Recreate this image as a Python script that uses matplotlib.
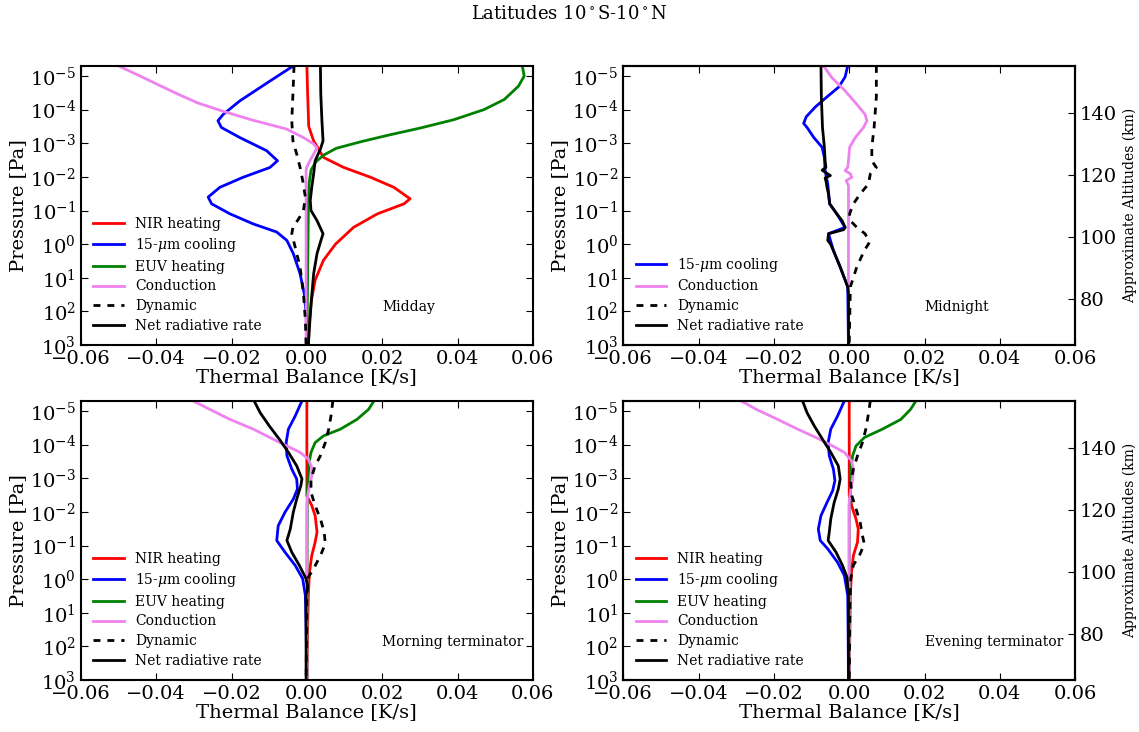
import numpy as np
import matplotlib
matplotlib.use('Agg')
import matplotlib.pyplot as plt
from matplotlib.ticker import NullLocator

# values: (log10 pressure [Pa], rate [K/s]), top to bottom
md_nir = [(-5.3,0.0),(-4.5,0.0002),(-3.5,0.0005),(-3.07,0.0018),(-2.83,0.0031),(-2.58,0.0044),(-2.28,0.0098),
          (-1.99,0.0169),(-1.69,0.0231),(-1.35,0.0274),(-1.2,0.0258),(-0.9,0.0187),(-0.5,0.0124),(0.0,0.0076),
          (0.48,0.0044),(1.07,0.0022),(1.67,0.0012),(2.36,0.0006),(3.0,0.0004)]
md_co2 = [(-5.3,-0.0036),(-4.85,-0.0098),(-4.26,-0.0178),(-3.86,-0.0222),(-3.67,-0.0236),(-3.47,-0.0227),
          (-3.17,-0.0178),(-2.78,-0.0107),(-2.48,-0.0078),(-2.28,-0.0098),(-1.99,-0.0169),(-1.69,-0.0231),
          (-1.4,-0.0262),(-1.2,-0.0253),(-0.9,-0.0204),(-0.6,-0.0142),(-0.36,-0.008),(-0.11,-0.0053),
          (0.28,-0.0036),(0.88,-0.0018),(1.47,-0.0007),(2.06,-0.0002),(3.0,0.0)]
md_euv = [(-5.3,0.0572),(-5.0,0.0577),(-4.7,0.0562),(-4.3,0.0524),(-4.0,0.047),(-3.7,0.039),(-3.45,0.030),
          (-3.25,0.022),(-3.05,0.0145),(-2.85,0.0078),(-2.65,0.0045),(-2.45,0.0024),(-2.2,0.0011),(-1.8,0.0006),
          (-1.2,0.0004),(0.0,0.0003),(1.0,0.0002),(2.0,0.0001),(3.0,0.0)]
md_cond = [(-5.3,-0.050),(-5.0,-0.0443),(-4.5,-0.035),(-4.2,-0.029),(-3.96,-0.0225),(-3.7,-0.0148),(-3.42,-0.0053),
           (-3.17,-0.0009),(-2.98,0.0018),(-2.86,0.0027),(-2.58,0.0013),(-2.3,0.0),(-2.2,-0.0002),(3.0,-0.0002)]
md_dyn = [(-5.3,-0.0034),(-4.46,-0.0037),(-3.67,-0.004),(-3.07,-0.0037),(-2.68,-0.0027),(-2.28,-0.0018),
          (-1.89,-0.0011),(-1.4,-0.0004),(-1.0,-0.0009),(-0.75,-0.0022),(-0.5,-0.0037),(-0.31,-0.004),
          (0.09,-0.0031),(0.68,-0.0018),(1.47,-0.0009),(2.26,-0.0004),(3.0,-0.0002)]
md_net = [(-5.3,0.0036),(-4.46,0.0037),(-3.67,0.004),(-3.07,0.0043),(-2.83,0.0036),(-2.48,0.0022),(-2.09,0.0018),
          (-1.69,0.0013),(-1.3,0.0009),(-1.0,0.0011),(-0.7,0.0027),(-0.31,0.0043),(-0.06,0.0036),(0.28,0.0027),
          (0.88,0.0018),(1.67,0.0012),(2.46,0.0007),(3.0,0.0004)]

mn_co2 = [(-5.3,-0.0004),(-4.97,-0.0011),(-4.67,-0.0028),(-4.38,-0.0059),(-4.08,-0.009),(-3.79,-0.0114),
          (-3.59,-0.0121),(-3.47,-0.0112),(-3.17,-0.0094),(-2.88,-0.0072),(-2.58,-0.0066),(-2.19,-0.0064),
          (-1.79,-0.0057),(-1.2,-0.0052),(-0.9,-0.0033),(-0.5,-0.0011),(-0.31,-0.0055),(0.19,-0.0042),
          (0.68,-0.0024),(1.27,-0.0004),(3.0,-0.0002)]
mn_cond = [(-5.3,-0.0068),(-4.95,-0.0046),(-4.56,-0.0011),(-4.16,0.002),(-3.86,0.0042),(-3.67,0.0047),
           (-3.47,0.0038),(-3.17,0.0016),(-2.88,0.0001),(-2.48,-0.0002),(-2.28,-0.0004),(-2.19,-0.0011),
           (-2.09,0.0003),(-1.99,0.0007),(-1.89,-0.0008),(-1.74,-0.0002),(3.0,-0.0002)]
mn_dyn = [(-5.3,0.0072),(-4.38,0.0072),(-3.47,0.0066),(-2.88,0.006),(-2.48,0.006),(-2.28,0.0072),(-2.09,0.0056),
          (-1.79,0.0051),(-1.49,0.0029),(-1.2,0.0011),(-0.9,0.0001),(-0.7,0.0003),(-0.5,0.002),(-0.31,0.0042),
          (-0.06,0.0054),(0.19,0.004),(0.68,0.002),(1.27,0.0003),(3.0,0.0)]
mn_net = [(-5.3,-0.0075),(-4.38,-0.0074),(-3.47,-0.0071),(-2.88,-0.0066),(-2.48,-0.0064),(-2.28,-0.0062),
          (-2.2,-0.0072),(-2.14,-0.0064),(-2.04,-0.005),(-1.97,-0.0064),(-1.84,-0.0061),(-1.69,-0.0059),
          (-1.49,-0.0055),(-1.2,-0.0052),(-0.9,-0.0033),(-0.7,-0.0019),(-0.5,-0.0011),(-0.43,-0.0015),
          (-0.31,-0.0055),(-0.11,-0.0057),(-0.01,-0.005),(0.19,-0.0042),(0.68,-0.0024),(1.27,-0.0004),
          (1.47,-0.0002),(3.0,-0.0002)]

mt_nir = [(-5.3,0.0),(-2.48,0.0),(-2.19,0.0013),(-1.89,0.0022),(-1.4,0.0027),(-1.1,0.0022),(-0.7,0.0013),
          (-0.21,0.0007),(0.48,0.0004),(1.47,0.0002),(3.0,0.0)]
mt_co2 = [(-5.3,-0.0013),(-4.85,-0.0031),(-4.46,-0.0049),(-4.06,-0.0055),(-3.67,-0.0053),(-3.27,-0.004),
          (-2.98,-0.0027),(-2.68,-0.0025),(-2.38,-0.0036),(-1.99,-0.0058),(-1.59,-0.0076),(-1.15,-0.008),
          (-0.8,-0.0058),(-0.41,-0.0031),(-0.01,-0.0011),(0.48,-0.0004),(1.47,-0.0002),(3.0,0.0)]
mt_euv = [(-5.3,0.0178),(-5.05,0.0164),(-4.75,0.0133),(-4.46,0.0089),(-4.26,0.0044),(-4.06,0.0022),
          (-3.77,0.0011),(-3.47,0.0006),(-2.98,0.0003),(-2.48,0.0001),(3.0,0.0)]
mt_cond = [(-5.3,-0.0302),(-5.05,-0.0258),(-4.75,-0.0204),(-4.46,-0.0142),(-4.21,-0.0098),(-3.96,-0.0053),
           (-3.77,-0.0018),(-3.57,0.0004),(-3.32,0.0013),(-3.07,0.0013),(-2.78,0.0007),(-2.48,0.0002),
           (-2.2,0.0),(3.0,0.0)]
mt_dyn = [(-5.3,0.0069),(-4.85,0.0064),(-4.46,0.0058),(-4.06,0.0049),(-3.67,0.0036),(-3.37,0.0022),
          (-2.98,0.0011),(-2.58,0.0011),(-2.19,0.0022),(-1.79,0.0036),(-1.4,0.0046),(-1.05,0.0049),
          (-0.7,0.0036),(-0.31,0.0018),(-0.06,0.0004),(0.48,0.0),(3.0,-0.0002)]
mt_net = [(-5.3,-0.014),(-4.95,-0.0124),(-4.56,-0.01),(-4.16,-0.0073),(-3.77,-0.0049),(-3.37,-0.0027),
          (-2.98,-0.0013),(-2.78,-0.0016),(-2.38,-0.0027),(-1.99,-0.0036),(-1.49,-0.0044),(-1.15,-0.0053),
          (-0.8,-0.004),(-0.41,-0.002),(-0.01,-0.0002),(0.19,0.0002),(0.48,-0.0002),(3.0,-0.0002)]

et_nir = [(-5.3,0.0),(-2.48,0.0),(-2.09,0.0009),(-1.79,0.0018),(-1.49,0.0024),(-1.1,0.0022),(-0.7,0.0011),
          (-0.21,0.0006),(0.48,0.0003),(3.0,0.0)]
et_co2 = [(-5.3,-0.0013),(-4.85,-0.0031),(-4.46,-0.0049),(-4.06,-0.0056),(-3.67,-0.0053),(-3.27,-0.0042),
          (-2.93,-0.0038),(-2.63,-0.0044),(-2.28,-0.0059),(-1.89,-0.0075),(-1.49,-0.0082),(-1.15,-0.0077),
          (-0.9,-0.0057),(-0.5,-0.0031),(-0.11,-0.0013),(0.48,-0.0004),(1.47,-0.0003),(3.0,-0.0002)]
et_euv = [(-5.3,0.0177),(-5.05,0.0163),(-4.75,0.0137),(-4.46,0.0088),(-4.21,0.004),(-3.96,0.0018),
          (-3.67,0.0009),(-3.27,0.0004),(-2.48,0.0003),(-2.19,0.0),(3.0,0.0)]
et_cond = [(-5.3,-0.0287),(-5.05,-0.0247),(-4.75,-0.019),(-4.46,-0.0137),(-4.21,-0.0088),(-3.96,-0.0044),
           (-3.77,-0.0013),(-3.52,0.0006),(-3.27,0.0011),(-2.98,0.0009),(-2.58,0.0003),(-2.3,0.0),(3.0,0.0)]
et_dyn = [(-5.3,0.0056),(-4.85,0.005),(-4.46,0.0044),(-4.06,0.0035),(-3.67,0.0022),(-3.27,0.0011),
          (-2.88,0.0004),(-2.48,0.0007),(-2.09,0.0018),(-1.69,0.0029),(-1.3,0.0035),(-1.05,0.004),
          (-0.75,0.0029),(-0.41,0.0011),(-0.01,0.0004),(0.68,0.0002),(3.0,0.0)]
et_net = [(-5.3,-0.0124),(-4.95,-0.0112),(-4.56,-0.0093),(-4.16,-0.0071),(-3.77,-0.0049),(-3.37,-0.0029),
          (-2.98,-0.0024),(-2.68,-0.0029),(-2.28,-0.004),(-1.79,-0.0049),(-1.4,-0.0053),(-1.15,-0.0056),
          (-0.8,-0.0035),(-0.41,-0.0018),(-0.06,-0.0006),(0.48,-0.0002),(3.0,-0.0002)]

panels = [('Midday', [md_nir, md_co2, md_euv, md_cond, md_dyn, md_net]),
          ('Midnight', [None, mn_co2, None, mn_cond, mn_dyn, mn_net]),
          ('Morning terminator', [mt_nir, mt_co2, mt_euv, mt_cond, mt_dyn, mt_net]),
          ('Evening terminator', [et_nir, et_co2, et_euv, et_cond, et_dyn, et_net])]
labels = ['NIR heating', r'15-$\mu$m cooling', 'EUV heating', 'Conduction', 'Dynamic', 'Net radiative rate']
colors = ['r', 'b', 'g', 'violet', 'k', 'k']
alt_ticks = [80, 100, 120, 140]

plt.rcParams['font.family'] = 'serif'
plt.rcParams['font.serif'] = ['DejaVu Serif']
plt.rcParams['mathtext.fontset'] = 'dejavuserif'
plt.rcParams['xtick.direction'] = 'in'
plt.rcParams['ytick.direction'] = 'in'
plt.rcParams['xtick.top'] = True
plt.rcParams['ytick.right'] = True
plt.rcParams['xtick.major.size'] = 5
plt.rcParams['ytick.major.size'] = 5
plt.rcParams['axes.linewidth'] = 1.5

fig, axs = plt.subplots(2, 2, figsize=(11.39, 7.32), dpi=100)
fig.subplots_adjust(left=0.071, right=0.944, bottom=0.071, top=0.91, wspace=0.2, hspace=0.2)
fig.suptitle(r'Latitudes 10$^\circ$S-10$^\circ$N', fontsize=13, y=0.993)

for i, (name, series) in enumerate(panels):
    ax = axs.flat[i]
    for s, lab, c in zip(series, labels, colors):
        if s is None:
            continue
        d = np.array(s)
        if lab == 'Dynamic':
            ax.plot(d[:, 1], 10**d[:, 0], color=c, lw=2, ls='--', dashes=(2.5, 2.5), label=lab)
        else:
            ax.plot(d[:, 1], 10**d[:, 0], color=c, lw=2, label=lab)
    ax.set_yscale('log')
    ax.set_ylim(1e3, 5e-6)
    ax.set_xlim(-0.06, 0.06)
    ax.set_yticks([1e-5, 1e-4, 1e-3, 1e-2, 1e-1, 1e0, 1e1, 1e2, 1e3])
    ax.yaxis.set_minor_locator(NullLocator())
    ax.set_xticks(np.arange(-0.06, 0.061, 0.02))
    ax.tick_params(labelsize=14)
    ax.set_xlabel('Thermal Balance [K/s]', fontsize=14, labelpad=0)
    ax.set_ylabel('Pressure [Pa]', fontsize=14, labelpad=2)
    ax.text(0.02, 100, name, fontsize=10)
    ax.legend(loc='lower left', frameon=False, fontsize=10, handlelength=2.2, labelspacing=0.4)
    if i % 2 == 1:
        ax2 = ax.twinx()
        ax2.set_ylim(65, 155.4)
        ax2.set_yticks(alt_ticks)
        ax2.tick_params(labelsize=14, direction='in')
        ax2.set_ylabel('Approximate Altitudes (km)', fontsize=10)

fig.savefig('out.png', dpi=100)
